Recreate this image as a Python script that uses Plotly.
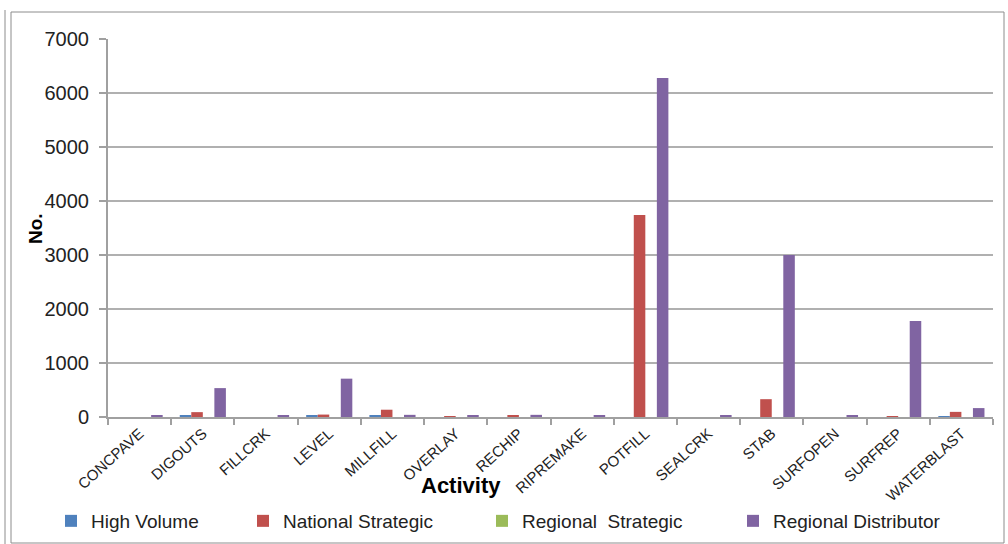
import plotly.graph_objects as go

categories = ["CONCPAVE", "DIGOUTS", "FILLCRK", "LEVEL", "MILLFILL", "OVERLAY", "RECHIP",
              "RIPREMAKE", "POTFILL", "SEALCRK", "STAB", "SURFOPEN", "SURFREP", "WATERBLAST"]
high_volume = [0, 20, 0, 20, 20, 0, 0, 0, 0, 0, 0, 0, 0, 15]
national_strategic = [0, 90, 0, 45, 135, 15, 20, 0, 3740, 0, 330, 0, 15, 95]
regional_strategic = [0, 0, 0, 0, 0, 0, 0, 0, 0, 0, 0, 0, 0, 0]
regional_distributor = [20, 535, 20, 710, 40, 20, 40, 20, 6280, 20, 3000, 20, 1780, 165]
y_ticks = [0, 1000, 2000, 3000, 4000, 5000, 6000, 7000]

series = [
    ("High Volume", high_volume, "#4F81BD", "legend2"),
    ("National Strategic", national_strategic, "#C0504D", "legend3"),
    ("Regional\u00a0\u00a0Strategic", regional_strategic, "#9BBB59", "legend4"),
    ("Regional Distributor", regional_distributor, "#8064A2", "legend5"),
]

W, H = 1008, 544
L, R, T, B = 108, 993, 39, 417


def px(x):
    return (x - L) / (R - L)


def py(y):
    return (B - y) / (B - T)


fig = go.Figure()
for name, vals, color, lg in series:
    fig.add_trace(go.Bar(x=categories, y=vals, name=name, marker_color=color,
                         marker_line_width=0, legend=lg))

legend_font = dict(family="Liberation Sans", size=19, color="#222222")
text_starts = [85, 277, 516, 767]
legend_layout = {}
for key, xs in zip(["legend2", "legend3", "legend4", "legend5"], text_starts):
    legend_layout[key] = dict(x=px(xs - 34), y=py(521), xanchor="left", yanchor="middle",
                              orientation="h", font=legend_font, bgcolor="rgba(0,0,0,0)",
                              borderwidth=0, itemwidth=30)

fig.update_layout(
    width=W, height=H,
    margin=dict(l=L, r=W - R, t=T, b=H - B, autoexpand=False),
    paper_bgcolor="white", plot_bgcolor="white",
    barmode="group", bargap=0.27, bargroupgap=0,
    font=dict(family="Liberation Sans", color="#222222"),
    showlegend=True,
    xaxis=dict(showline=True, linecolor="#a0a0a0", linewidth=2, ticks="outside",
               tickson="boundaries", ticklen=6, tickcolor="#a0a0a0", tickwidth=2,
               tickangle=-42, tickfont=dict(size=15, color="#222222"), showgrid=False,
               automargin=False),
    yaxis=dict(range=[0, 7000], tickvals=y_ticks, showline=True, linecolor="#a0a0a0",
               linewidth=2, ticks="outside", ticklen=7, tickcolor="#a0a0a0", tickwidth=2,
               gridcolor="#b0b0b0", gridwidth=2, tickfont=dict(size=20, color="#222222"),
               ticklabelstandoff=6, zeroline=False, automargin=False),
    **legend_layout,
    shapes=[
        dict(type="rect", xref="paper", yref="paper", x0=px(11), x1=px(1004), y0=py(543), y1=py(12),
             line=dict(color="#8c8c8c", width=1)),
        dict(type="line", xref="paper", yref="paper", x0=px(5), x1=px(5), y0=py(544), y1=py(10),
             line=dict(color="#8c8c8c", width=1)),
    ],
    annotations=[
        dict(text="<b>Activity</b>", x=px(461), y=py(485), xref="paper", yref="paper",
             xanchor="center", yanchor="middle",
             showarrow=False, font=dict(family="Liberation Sans", size=22, color="black")),
        dict(text="<b>No.</b>", x=px(35), y=py(229), xref="paper", yref="paper",
             xanchor="center", yanchor="middle",
             showarrow=False, textangle=-90, font=dict(family="Liberation Sans", size=19, color="black")),
    ],
)

fig.write_html("out.html", config={"displayModeBar": False},
               post_script="document.body.style.margin='0';")
